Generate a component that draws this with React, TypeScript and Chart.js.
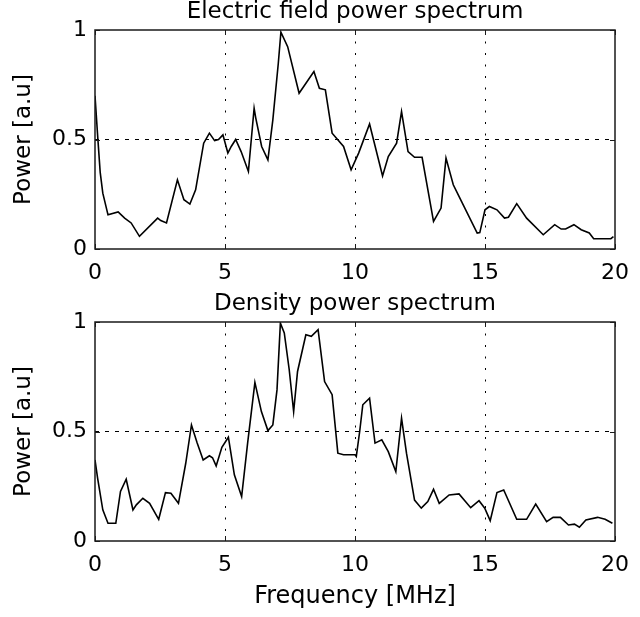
import React, { useEffect, useRef } from 'react';
import { Chart, registerables } from 'chart.js';

Chart.register(...registerables);

// ---- Data ----
const xTickValues = [0, 5, 10, 15, 20];
const yTickValues = [0, 0.5, 1];

const titleTop = 'Electric field power spectrum';
const titleBottom = 'Density power spectrum';
const yLabel = 'Power [a.u]';
const xLabel = 'Frequency [MHz]';

const efFreq = [
  0.0, 0.1, 0.2, 0.3, 0.5, 0.89, 1.14, 1.39, 1.71, 2.41, 2.53, 2.75, 3.17, 3.42, 3.65, 3.87,
  4.18, 4.4, 4.6, 4.75, 4.92, 5.11, 5.24, 5.41, 5.62, 5.9, 6.12, 6.18, 6.41, 6.65, 6.84, 7.05,
  7.15, 7.41, 7.85, 8.42, 8.63, 8.86, 9.12, 9.56, 9.85, 10.14, 10.56, 11.06, 11.28, 11.6, 11.79,
  12.04, 12.29, 12.58, 13.02, 13.31, 13.5, 13.78, 14.0, 14.7, 14.8, 15.0, 15.17, 15.46, 15.75,
  15.9, 16.22, 16.6, 17.24, 17.68, 17.93, 18.1, 18.42, 18.7, 19.01, 19.18, 19.84, 19.94,
];
const efPower = [
  0.7, 0.52, 0.35, 0.255, 0.156, 0.169, 0.141, 0.119, 0.058, 0.141, 0.13, 0.119, 0.316, 0.225, 0.205, 0.27,
  0.483, 0.529, 0.495, 0.5, 0.521, 0.438, 0.468, 0.5, 0.445, 0.354, 0.643, 0.6, 0.468, 0.407, 0.59, 0.848,
  0.99, 0.924, 0.711, 0.81, 0.734, 0.727, 0.529, 0.468, 0.362, 0.438, 0.571, 0.334, 0.422, 0.483, 0.627,
  0.445, 0.419, 0.419, 0.126, 0.187, 0.415, 0.293, 0.24, 0.073, 0.075, 0.179, 0.194, 0.179, 0.141,
  0.145, 0.207, 0.141, 0.065, 0.111, 0.091, 0.091, 0.111, 0.088, 0.073, 0.047, 0.047, 0.056,
];

const dnFreq = [
  0.0, 0.1, 0.3, 0.5, 0.8, 0.98, 1.2, 1.46, 1.59, 1.84, 2.1, 2.45, 2.71, 2.92, 3.21, 3.49,
  3.71, 3.93, 4.16, 4.4, 4.52, 4.66, 4.88, 5.13, 5.36, 5.64, 5.87, 6.15, 6.4, 6.65, 6.84, 7.0,
  7.13, 7.28, 7.47, 7.64, 7.79, 8.11, 8.32, 8.58, 8.83, 9.12, 9.34, 9.56, 10.0, 10.05, 10.18,
  10.3, 10.56, 10.77, 11.03, 11.28, 11.57, 11.79, 11.98, 12.29, 12.55, 12.8, 13.02, 13.24, 13.62,
  14.0, 14.45, 14.77, 14.99, 15.2, 15.46, 15.72, 16.22, 16.6, 16.95, 17.37, 17.62, 17.9, 18.21,
  18.44, 18.63, 18.88, 19.33, 19.62, 19.9,
];
const dnPower = [
  0.37, 0.287, 0.142, 0.081, 0.081, 0.226, 0.282, 0.142, 0.165, 0.195, 0.172, 0.099, 0.221, 0.218, 0.172, 0.355,
  0.53, 0.447, 0.37, 0.389, 0.38, 0.343, 0.428, 0.474, 0.302, 0.203, 0.447, 0.724, 0.591, 0.504, 0.53, 0.69,
  0.995, 0.95, 0.782, 0.591, 0.774, 0.942, 0.935, 0.965, 0.728, 0.668, 0.401, 0.394, 0.394, 0.386, 0.5,
  0.622, 0.652, 0.447, 0.462, 0.408, 0.317, 0.561, 0.401, 0.187, 0.15, 0.18, 0.236, 0.172, 0.21,
  0.215, 0.152, 0.184, 0.15, 0.093, 0.221, 0.233, 0.099, 0.099, 0.169, 0.088, 0.108, 0.108, 0.073,
  0.077, 0.063, 0.096, 0.108, 0.099, 0.081,
];

const FONT = '"DejaVu Sans", sans-serif';

const boxPlugin = {
  id: 'matlabBox',
  afterDatasetsDraw(chart: any) {
    const { ctx, chartArea: a, scales } = chart;
    ctx.save();
    ctx.strokeStyle = '#1a1a1a';
    ctx.lineWidth = 1.5;
    ctx.strokeRect(a.left, a.top, a.right - a.left, a.bottom - a.top);
    ctx.lineWidth = 1;
    ctx.beginPath();
    const tl = 5;
    for (const v of xTickValues) {
      const px = Math.round(scales.x.getPixelForValue(v)) + 0.5;
      ctx.moveTo(px, a.bottom);
      ctx.lineTo(px, a.bottom - tl);
      ctx.moveTo(px, a.top);
      ctx.lineTo(px, a.top + tl);
    }
    for (const v of yTickValues) {
      const py = Math.round(scales.y.getPixelForValue(v)) + 0.5;
      ctx.moveTo(a.left, py);
      ctx.lineTo(a.left + tl, py);
      ctx.moveTo(a.right, py);
      ctx.lineTo(a.right - tl, py);
    }
    ctx.stroke();
    ctx.restore();
  },
};

function makeConfig(
  title: string,
  freq: number[],
  power: number[],
  showXTitle: boolean,
  titlePadTop: number,
  titleHeight: number,
  xAxisHeight: number,
): any {
  return {
    type: 'line',
    data: {
      datasets: [
        {
          data: freq.map((f, i) => ({ x: f, y: power[i] })),
          borderColor: '#000',
          borderWidth: 1.6,
          pointRadius: 0,
          tension: 0,
          fill: false,
          xAxisID: 'x',
          yAxisID: 'y',
        },
      ],
    },
    options: {
      animation: false,
      responsive: false,
      layout: { padding: { left: 0, right: 19, top: 0, bottom: 0 } },
      plugins: {
        legend: { display: false },
        tooltip: { enabled: false },
        title: { display: false },
      },
      scales: {
        x: {
          type: 'linear',
          position: 'bottom',
          min: 0,
          max: 20,
          afterBuildTicks: (s: any) => {
            s.ticks = xTickValues.map((v) => ({ value: v }));
          },
          afterFit: (s: any) => {
            s.height = xAxisHeight;
          },
          border: { display: false, dash: [2, 9.5] },
          grid: {
            drawTicks: false,
            tickLength: 0,
            lineWidth: 1,
            color: (c: any) =>
              c.tick && (c.tick.value === 0 || c.tick.value === 20) ? 'rgba(0,0,0,0)' : '#000',
          },
          ticks: {
            color: '#000',
            padding: 11,
            maxRotation: 0,
            autoSkip: false,
            font: { family: FONT, size: 22 },
            callback: (v: any) => String(v),
          },
          title: {
            display: showXTitle,
            text: xLabel,
            color: '#000',
            font: { family: FONT, size: 24 },
            padding: { top: 0, bottom: 6 },
          },
        },
        xTitle: {
          type: 'linear',
          position: 'top',
          min: 0,
          max: 20,
          afterFit: (s: any) => {
            s.height = titleHeight;
          },
          border: { display: false },
          grid: { display: false, drawTicks: false },
          ticks: { display: false },
          title: {
            display: true,
            text: title,
            color: '#000',
            font: { family: FONT, size: 23, lineHeight: '24px' },
            padding: { top: titlePadTop, bottom: 0 },
          },
        },
        y: {
          type: 'linear',
          min: 0,
          max: 1,
          afterBuildTicks: (s: any) => {
            s.ticks = yTickValues.map((v) => ({ value: v }));
          },
          afterFit: (s: any) => {
            s.width = 95;
          },
          border: { display: false, dash: [4, 6] },
          grid: {
            drawTicks: false,
            tickLength: 0,
            lineWidth: 1,
            color: (c: any) =>
              c.tick && (c.tick.value === 0 || c.tick.value === 1) ? 'rgba(0,0,0,0)' : '#000',
          },
          ticks: {
            color: '#000',
            padding: 8,
            autoSkip: false,
            font: { family: FONT, size: 22 },
            callback: (v: any) => String(v),
          },
          title: {
            display: true,
            text: yLabel,
            color: '#000',
            font: { family: FONT, size: 23 },
            padding: { top: 10, bottom: 0 },
          },
        },
      },
    },
    plugins: [boxPlugin],
  };
}

function Panel(props: {
  top: number;
  height: number;
  title: string;
  freq: number[];
  power: number[];
  showXTitle: boolean;
  titlePadTop: number;
  titleHeight: number;
  xAxisHeight: number;
}) {
  const ref = useRef<HTMLCanvasElement | null>(null);
  useEffect(() => {
    if (!ref.current) return;
    const chart = new Chart(
      ref.current,
      makeConfig(
        props.title,
        props.freq,
        props.power,
        props.showXTitle,
        props.titlePadTop,
        props.titleHeight,
        props.xAxisHeight,
      ),
    );
    return () => chart.destroy();
  }, []);
  return (
    <canvas
      ref={ref}
      width={640}
      height={props.height}
      style={{ position: 'absolute', left: 0, top: props.top, width: 640, height: props.height }}
    />
  );
}

export default function App() {
  return (
    <div
      style={{
        position: 'fixed',
        left: 0,
        top: 0,
        width: 640,
        height: 617,
        background: '#fff',
        overflow: 'hidden',
      }}
    >
      <Panel
        top={0}
        height={290}
        title={titleTop}
        freq={efFreq}
        power={efPower}
        showXTitle={false}
        titlePadTop={0}
        titleHeight={30}
        xAxisHeight={41}
      />
      <Panel
        top={290}
        height={327}
        title={titleBottom}
        freq={dnFreq}
        power={dnPower}
        showXTitle={true}
        titlePadTop={2}
        titleHeight={32}
        xAxisHeight={76}
      />
    </div>
  );
}
